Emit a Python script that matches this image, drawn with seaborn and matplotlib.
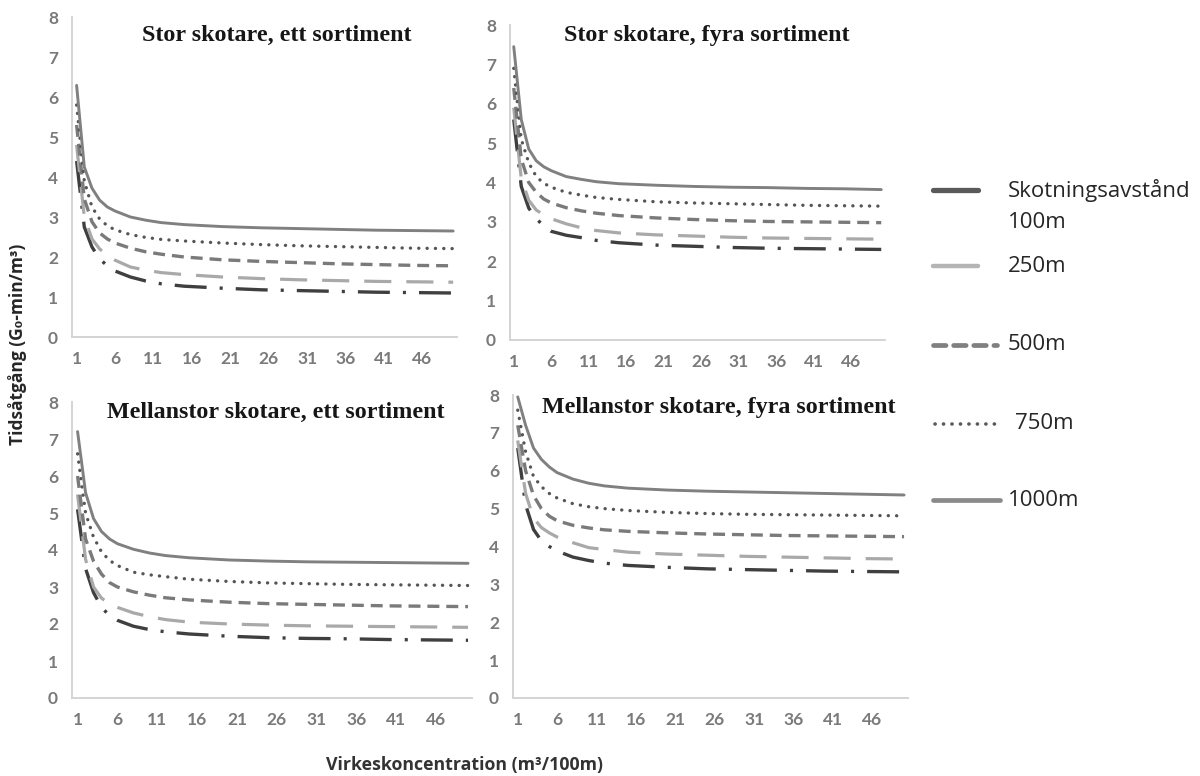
import matplotlib
matplotlib.use("Agg")
import matplotlib.pyplot as plt
import seaborn as sns
import pandas as pd
from matplotlib.lines import Line2D

# ---------------- data ----------------
conc = [1, 2, 3, 4, 5, 6, 8, 10, 12, 15, 20, 25, 30, 35, 40, 45, 50]
xtick_values = [1, 6, 11, 16, 21, 26, 31, 36, 41, 46]
distances = ["100m", "250m", "500m", "750m", "1000m"]

# Stor skotare, ett sortiment
stor_ett_100 = [4.4, 2.75, 2.25, 1.95, 1.78, 1.65, 1.5, 1.4, 1.33, 1.27, 1.22, 1.18, 1.16, 1.14, 1.12, 1.11, 1.10]
stor_ett_250 = [4.8, 3.0, 2.45, 2.2, 2.05, 1.92, 1.75, 1.67, 1.61, 1.56, 1.5, 1.46, 1.43, 1.41, 1.39, 1.38, 1.37]
stor_ett_500 = [5.3, 3.45, 2.88, 2.6, 2.45, 2.35, 2.22, 2.13, 2.07, 2.0, 1.93, 1.89, 1.86, 1.83, 1.81, 1.79, 1.78]
stor_ett_750 = [5.8, 3.9, 3.25, 2.95, 2.78, 2.68, 2.56, 2.49, 2.44, 2.4, 2.35, 2.31, 2.28, 2.26, 2.24, 2.22, 2.21]
stor_ett_1000 = [6.29, 4.25, 3.72, 3.42, 3.25, 3.15, 3.0, 2.92, 2.86, 2.81, 2.76, 2.73, 2.71, 2.69, 2.67, 2.66, 2.65]

# Stor skotare, fyra sortiment
stor_fyra_100 = [5.6, 3.9, 3.35, 3.08, 2.9, 2.76, 2.66, 2.6, 2.53, 2.47, 2.41, 2.38, 2.35, 2.33, 2.32, 2.31, 2.30]
stor_fyra_250 = [5.9, 4.1, 3.55, 3.3, 3.18, 3.08, 2.95, 2.85, 2.78, 2.72, 2.67, 2.64, 2.61, 2.59, 2.58, 2.57, 2.56]
stor_fyra_500 = [6.4, 4.6, 4.0, 3.75, 3.58, 3.48, 3.36, 3.28, 3.22, 3.16, 3.1, 3.06, 3.03, 3.01, 3.0, 2.99, 2.98]
stor_fyra_750 = [6.9, 5.1, 4.5, 4.15, 3.98, 3.88, 3.75, 3.68, 3.62, 3.57, 3.51, 3.48, 3.46, 3.44, 3.42, 3.41, 3.40]
stor_fyra_1000 = [7.45, 5.6, 4.85, 4.55, 4.4, 4.3, 4.15, 4.08, 4.02, 3.97, 3.93, 3.9, 3.88, 3.87, 3.85, 3.84, 3.82]

# Mellanstor skotare, ett sortiment
mellan_ett_100 = [5.1, 3.5, 2.85, 2.45, 2.23, 2.1, 1.94, 1.85, 1.79, 1.73, 1.67, 1.63, 1.61, 1.6, 1.58, 1.57, 1.56]
mellan_ett_250 = [5.5, 3.75, 3.0, 2.7, 2.55, 2.45, 2.3, 2.2, 2.12, 2.05, 2.0, 1.97, 1.95, 1.94, 1.93, 1.92, 1.91]
mellan_ett_500 = [6.0, 4.3, 3.7, 3.35, 3.12, 3.0, 2.87, 2.78, 2.71, 2.65, 2.59, 2.55, 2.53, 2.51, 2.49, 2.48, 2.47]
mellan_ett_750 = [6.6, 5.0, 4.35, 3.95, 3.72, 3.58, 3.4, 3.33, 3.28, 3.21, 3.15, 3.11, 3.09, 3.07, 3.06, 3.05, 3.04]
mellan_ett_1000 = [7.2, 5.55, 4.85, 4.5, 4.3, 4.17, 4.02, 3.92, 3.85, 3.79, 3.73, 3.7, 3.68, 3.67, 3.66, 3.65, 3.64]

# Mellanstor skotare, fyra sortiment
mellan_fyra_100 = [6.6, 5.1, 4.45, 4.15, 4.0, 3.88, 3.72, 3.63, 3.56, 3.5, 3.45, 3.41, 3.39, 3.37, 3.35, 3.34, 3.33]
mellan_fyra_250 = [6.8, 5.4, 4.75, 4.5, 4.36, 4.25, 4.1, 3.97, 3.92, 3.85, 3.8, 3.77, 3.74, 3.72, 3.7, 3.68, 3.67]
mellan_fyra_500 = [7.2, 6.0, 5.35, 5.0, 4.8, 4.68, 4.56, 4.49, 4.44, 4.4, 4.36, 4.33, 4.31, 4.29, 4.28, 4.27, 4.26]
mellan_fyra_750 = [7.6, 6.5, 5.85, 5.58, 5.4, 5.28, 5.13, 5.05, 5.0, 4.95, 4.9, 4.87, 4.85, 4.84, 4.83, 4.82, 4.81]
mellan_fyra_1000 = [7.95, 7.2, 6.6, 6.3, 6.1, 5.95, 5.78, 5.67, 5.6, 5.54, 5.49, 5.46, 5.44, 5.42, 5.4, 5.38, 5.36]

panel_titles = ["Stor skotare, ett sortiment", "Stor skotare, fyra sortiment",
                "Mellanstor skotare, ett sortiment", "Mellanstor skotare, fyra sortiment"]
panel_series = [
    [stor_ett_100, stor_ett_250, stor_ett_500, stor_ett_750, stor_ett_1000],
    [stor_fyra_100, stor_fyra_250, stor_fyra_500, stor_fyra_750, stor_fyra_1000],
    [mellan_ett_100, mellan_ett_250, mellan_ett_500, mellan_ett_750, mellan_ett_1000],
    [mellan_fyra_100, mellan_fyra_250, mellan_fyra_500, mellan_fyra_750, mellan_fyra_1000],
]
legend_title = "Skotningsavstånd"
ylabel = "Tidsåtgång (G₀-min/m³)"
xlabel = "Virkeskoncentration (m³/100m)"

# ---------------- style ----------------
sns.set_style("white")
plt.rcParams["font.family"] = ["Lato", "DejaVu Sans"]
plt.rcParams["lines.scale_dashes"] = False

line_styles = {
    "100m": dict(color="#3f3f3f", lw=2.4, ls=(0, (23, 9.4, 2.2, 9.4)), cap="butt"),
    "250m": dict(color="#a9a9a9", lw=2.3, ls=(0, (19.5, 10.8)), cap="butt"),
    "500m": dict(color="#7a7a7a", lw=2.4, ls=(0, (8.6, 5.0)), cap="butt"),
    "750m": dict(color="#555555", lw=2.4, ls=(0, (0.1, 5.9)), cap="round"),
    "1000m": dict(color="#808080", lw=2.1, ls="-", cap="butt"),
}

W, H = 1200, 776
fig = plt.figure(figsize=(W / 100, H / 100), dpi=100)

# axes boxes in pixels: left, right, top(y=8), bottom(y=0); x limits
boxes = [
    (72, 457, 17, 337, (0.4, 50.2)),
    (510, 885, 25, 340, (0.7, 50.3)),
    (72, 472, 402, 698, (0.3, 50.25)),
    (513, 908, 395, 698, (0.4, 50.4)),
]
title_pos = [(277, 35), (707, 35), (276, 412), (719, 407)]

tick_gray = "#7a7a7a"
spine_gray = "#d4d4d4"

for i, (l, r, t, b, xl) in enumerate(boxes):
    ax = fig.add_axes([l / W, 1 - b / H, (r - l) / W, (b - t) / H])
    df = pd.DataFrame({
        "conc": conc * len(distances),
        "tid": sum(panel_series[i], []),
        "dist": [d for d in distances for _ in conc],
    })
    for d in distances:
        st = line_styles[d]
        sub = df[df["dist"] == d]
        sns.lineplot(data=sub, x="conc", y="tid", ax=ax, color=st["color"],
                     linewidth=st["lw"], linestyle=st["ls"], legend=False)
        ln = ax.lines[-1]
        ln.set_dash_capstyle(st["cap"])
        ln.set_solid_capstyle("round")
        ln.set_solid_joinstyle("round")
    ax.set_xlim(*xl)
    ax.set_ylim(0, 8)
    ax.set_xlabel("")
    ax.set_ylabel("")
    ax.set_yticks(range(0, 9))
    ax.set_xticks(xtick_values)
    ax.set_xticklabels([str(v) for v in xtick_values])
    ax.set_xticks([v - 0.5 for v in xtick_values] + [50.5], minor=True)
    ax.tick_params(axis="x", which="major", length=0, pad=10)
    ax.tick_params(axis="x", which="minor", length=4, width=1.2, color=spine_gray, direction="out")
    ax.tick_params(axis="y", which="major", length=4, width=1.2, color=spine_gray, direction="out", pad=6)
    for lab in ax.get_xticklabels() + ax.get_yticklabels():
        lab.set_color(tick_gray)
        lab.set_fontweight("bold")
        lab.set_fontsize(12.5)
    for s in ["top", "right"]:
        ax.spines[s].set_visible(False)
    for s in ["left", "bottom"]:
        ax.spines[s].set_color(spine_gray)
        ax.spines[s].set_linewidth(1.4)
    ax.grid(False)
    ax.patch.set_alpha(0)
    tx, ty = title_pos[i]
    fig.text(tx / W, 1 - ty / H, panel_titles[i], ha="center", va="center",
             family="Liberation Serif", fontweight="bold", fontsize=17.3, color="#161616")

# axis labels
fig.text(18 / W, 1 - 344 / H, ylabel, rotation=90, ha="center", va="center",
         fontweight="bold", fontsize=12.5, color="#262626", family=["Open Sans", "DejaVu Sans"])
fig.text(465 / W, 1 - 765 / H, xlabel, ha="center", va="center",
         fontweight="bold", fontsize=12.8, color="#333333", family=["Open Sans", "DejaVu Sans"])

# legend (drawn in figure space)
leg_items = [
    ("100m", 190, 933, 978, dict(color="#5a5a5a", lw=3.8, ls="-")),
    ("250m", 266, 933, 978, dict(color="#b4b4b4", lw=3.2, ls="-")),
    ("500m", 345, 933, 997, dict(color="#808080", lw=3.4, ls=(0, (9, 5.5)))),
    ("750m", 424, 935, 995, dict(color="#5a5a5a", lw=2.6, ls=(0, (0.1, 6.0)))),
    ("1000m", 500, 933, 1000, dict(color="#8a8a8a", lw=3.4, ls="-")),
]
leg_fs = 16
for lab, y, x0, x1, st in leg_items:
    ln = Line2D([x0 / W, x1 / W], [1 - y / H, 1 - y / H], transform=fig.transFigure,
                color=st["color"], linewidth=st["lw"], linestyle=st["ls"],
                solid_capstyle="round", dash_capstyle="round")
    fig.add_artist(ln)
    tx = 1015 if lab == "750m" else 1008
    if lab == "100m":
        fig.text(1008 / W, 1 - 190 / H, legend_title, ha="left", va="center",
                 fontsize=leg_fs, color="#262626", family="Open Sans")
        fig.text(1008 / W, 1 - 223 / H, lab, ha="left", va="center",
                 fontsize=leg_fs, color="#262626", family="Open Sans")
    else:
        fig.text(tx / W, 1 - y / H, lab, ha="left", va="center",
                 fontsize=leg_fs, color="#262626", family="Open Sans")

fig.savefig("out.png", dpi=100, facecolor="white")
